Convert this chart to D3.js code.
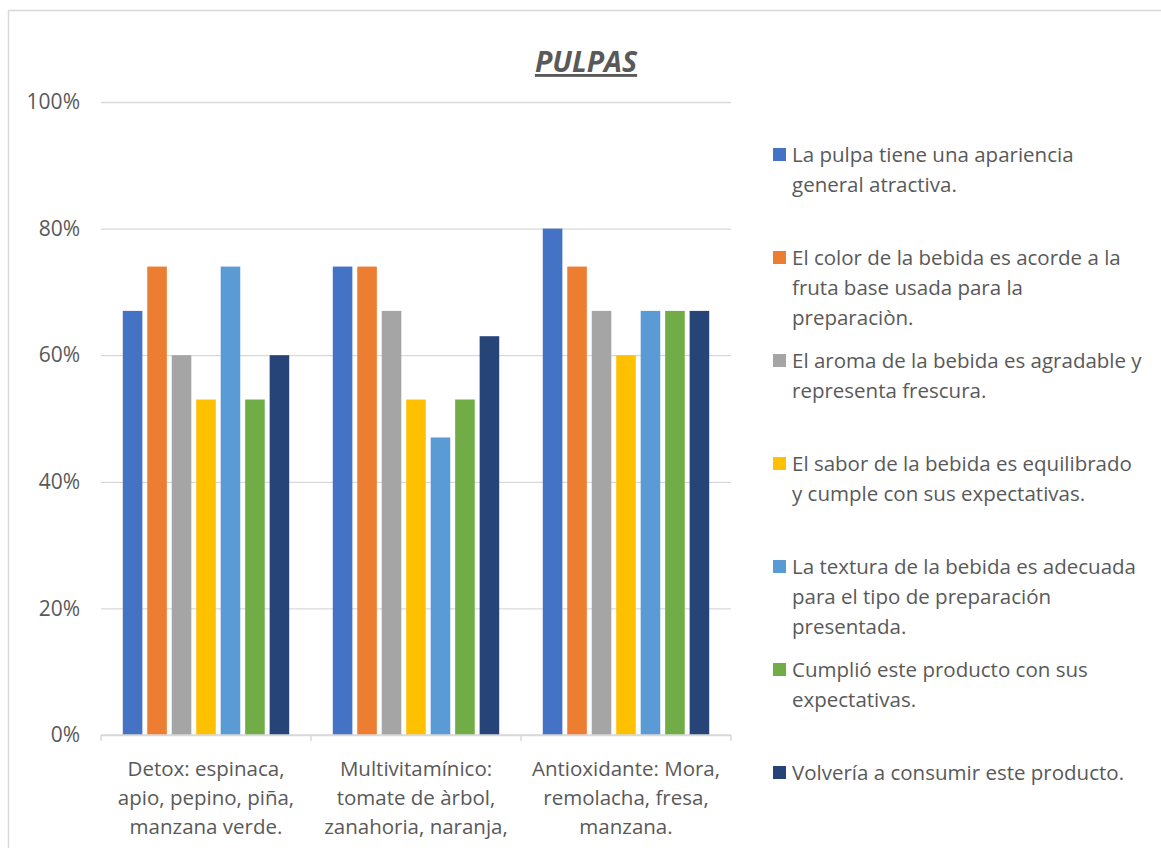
<!DOCTYPE html>
<html><head><meta charset="utf-8">
<script src="https://cdn.jsdelivr.net/npm/d3@7"></script>
<style>
html,body{margin:0;padding:0;background:#fff;}
svg{display:block;}
text{font-family:"Open Sans","Noto Sans",sans-serif;fill:#595959;}
</style></head>
<body>
<svg id="c" width="1161" height="848"></svg>
<script>
const title = "PULPAS";
const categories = [
  ["Detox: espinaca,","apio, pepino, piña,","manzana verde."],
  ["Multivitamínico:","tomate de àrbol,","zanahoria, naranja,"],
  ["Antioxidante: Mora,","remolacha, fresa,","manzana."]
];
const categoryKeys = ["Detox","Multivitaminico","Antioxidante"];
const seriesNames = [
  ["La pulpa tiene una apariencia","general atractiva."],
  ["El color de la bebida es acorde a la","fruta base usada para la","preparaciòn."],
  ["El aroma de la bebida es agradable y","representa frescura."],
  ["El sabor de la bebida es equilibrado","y cumple con sus expectativas."],
  ["La textura de la bebida es adecuada","para el tipo de preparación","presentada."],
  ["Cumplió este producto con sus","expectativas."],
  ["Volvería a consumir este producto."]
];
const colors = ["#4472C4","#ED7D31","#A5A5A5","#FFC000","#5B9BD5","#70AD47","#264478"];
// values in %, per series, per category
const apariencia = [67, 74, 80];
const colorBebida = [74, 74, 74];
const aroma = [60, 67, 67];
const sabor = [53, 53, 60];
const textura = [74, 47, 67];
const cumplio = [53, 53, 67];
const volveria = [60, 63, 67];
const seriesValues = [apariencia, colorBebida, aroma, sabor, textura, cumplio, volveria];
const yTicks = [0, 20, 40, 60, 80, 100];

const svg = d3.select("#c");
svg.append("rect").attr("x",8.5).attr("y",10.5).attr("width",1200).attr("height",900)
  .attr("fill","none").attr("stroke","#d9d9d9").attr("stroke-width",1.5);

const pL = 101, pR = 731, pT = 102, pB = 735;
const y = d3.scaleLinear().domain([0,100]).range([pB, pT]);
const x0 = d3.scaleBand().domain(categoryKeys).range([pL, pR]).padding(0);
const sIdx = d3.range(seriesValues.length);
const x1 = d3.scaleBand().domain(sIdx).range([0, x0.bandwidth()]).paddingInner(0.2).paddingOuter(0.89);

const yAxis = d3.axisLeft(y).tickValues(yTicks).tickSize(-(pR-pL)).tickFormat(d => d + "%").tickPadding(21);
const gy = svg.append("g").attr("transform",`translate(${pL},0)`).call(yAxis);
gy.select(".domain").remove();
gy.selectAll(".tick line").attr("stroke","#d9d9d9").attr("stroke-width",1.3);
gy.selectAll(".tick text").attr("font-size",21).attr("fill","#595959")
  .style("font-family",'"Open Sans","Noto Sans",sans-serif');

const g = svg.append("g");
categoryKeys.forEach((c, ci) => {
  sIdx.forEach(si => {
    g.append("rect")
      .attr("x", x0(c) + x1(si))
      .attr("y", y(seriesValues[si][ci]))
      .attr("width", x1.bandwidth())
      .attr("height", y(0) - y(seriesValues[si][ci]))
      .attr("fill", colors[si]);
  });
});

const xAxis = d3.axisBottom(x0).tickSize(0).tickFormat("");
const gx = svg.append("g").attr("transform",`translate(0,${pB})`).call(xAxis);
gx.select(".domain").attr("stroke","#d9d9d9").attr("stroke-width",1.5).attr("d",`M${pL},0H${pR}`);
const bounds = categoryKeys.map(c => x0(c)).concat([pR]);
gx.selectAll(".bt").data(bounds).enter().append("line").attr("class","bt")
  .attr("x1",d=>d).attr("x2",d=>d).attr("y1",0).attr("y2",6)
  .attr("stroke","#d9d9d9").attr("stroke-width",1.5);
categoryKeys.forEach((c, ci) => {
  const t = svg.append("text").attr("text-anchor","middle").attr("font-size",20.5);
  categories[ci].forEach((line, li) => {
    t.append("tspan").attr("x", x0(c) + x0.bandwidth()/2).attr("y", 776 + li*29).text(line);
  });
});

svg.append("text").attr("x",586).attr("y",72).attr("text-anchor","middle")
  .attr("font-size",28.5).attr("font-weight","bold").attr("font-style","italic")
  .attr("text-decoration","underline").text(title);

const legendTops = [155, 258, 361, 464, 567, 670, 773];
seriesNames.forEach((lines, si) => {
  const ly = legendTops[si];
  svg.append("rect").attr("x",773).attr("y",ly-7).attr("width",13).attr("height",13).attr("fill",colors[si]);
  const t = svg.append("text").attr("font-size",20.5);
  lines.forEach((line, li) => {
    t.append("tspan").attr("x",792).attr("y", ly + 7 + li*30).text(line);
  });
});
</script>
</body></html>
